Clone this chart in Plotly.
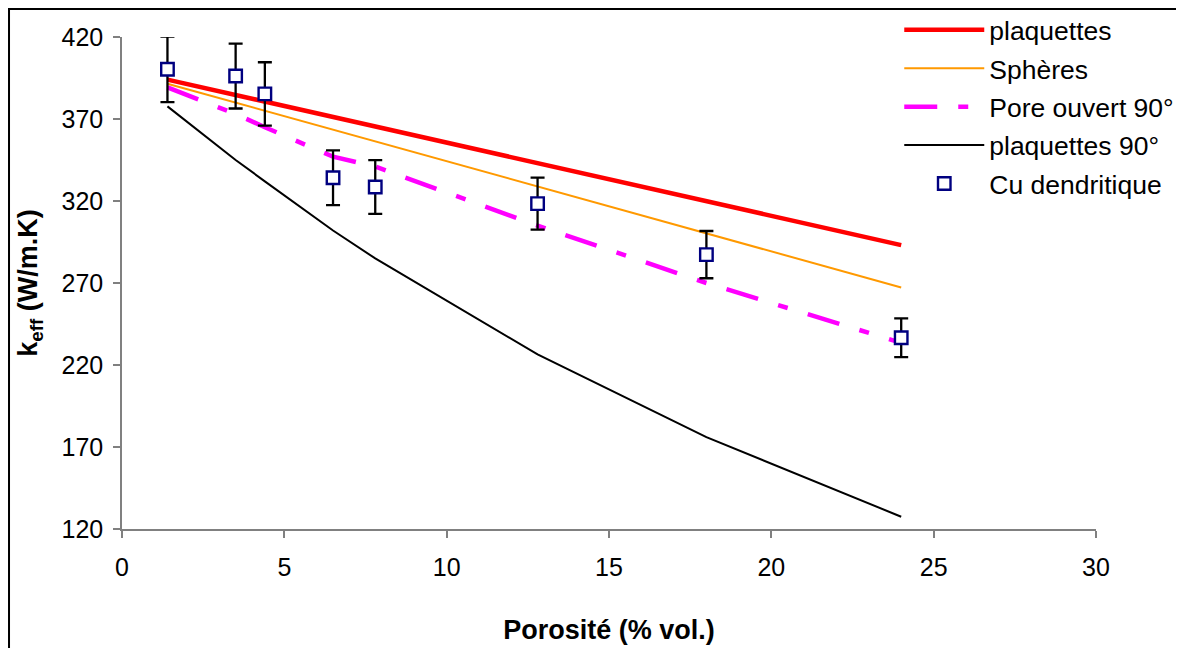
import plotly.graph_objects as go

# ---- data ----
porosity = [1.4, 3.5, 4.4, 6.5, 7.8, 12.8, 18.0, 24.0]

plaquettes = [394.0, 384.6, 380.6, 371.2, 365.4, 343.1, 319.9, 293.1]
spheres = [391.5, 380.0, 375.0, 363.5, 356.3, 329.0, 300.5, 267.3]
pore_ouvert_90 = [389.3, 373.0, 365.0, 347.0, 341.0, 305.0, 270.0, 233.5]
plaquettes_90 = [377.7, 345.0, 332.0, 302.0, 285.0, 226.5, 176.0, 127.5]

cu_x = [1.4, 3.5, 4.4, 6.5, 7.8, 12.8, 18.0, 24.0]
cu_y = [400.3, 396.2, 385.3, 334.2, 328.5, 318.4, 287.3, 236.6]
cu_err = [20.0, 19.8, 19.3, 16.7, 16.4, 15.9, 14.4, 11.8]

x_ticks = [0, 5, 10, 15, 20, 25, 30]
y_ticks = [120, 170, 220, 270, 320, 370, 420]

FONT = "Liberation Sans, Arial, sans-serif"

fig = go.Figure()

fig.add_trace(go.Scatter(
    x=porosity, y=plaquettes, mode="lines", name="plaquettes",
    line=dict(color="#ff0000", width=4.5), legendgroup="a"))
fig.add_trace(go.Scatter(
    x=porosity, y=spheres, mode="lines", name="Sphères",
    line=dict(color="#ff9900", width=2), legendgroup="b"))
fig.add_trace(go.Scatter(
    x=porosity, y=pore_ouvert_90, mode="lines", name="Pore ouvert 90°",
    line=dict(color="#ff00ff", width=4.5, dash="33px,21px,10px,21px"), legendgroup="c"))
fig.add_trace(go.Scatter(
    x=porosity, y=plaquettes_90, mode="lines", name="plaquettes 90°",
    line=dict(color="#000000", width=2), legendgroup="d"))
fig.add_trace(go.Scatter(
    x=cu_x, y=cu_y, mode="markers", name="Cu dendritique",
    marker=dict(symbol="square", size=12.5, color="white",
                line=dict(color="#000080", width=2.4)),
    error_y=dict(type="data", array=cu_err, visible=True,
                 color="black", thickness=2.3, width=7),
    legendgroup="e"))

axis_common = dict(
    showgrid=False, zeroline=False, showline=True,
    linecolor="#808080", linewidth=1.5,
    ticks="outside", ticklen=7, tickcolor="#808080", tickwidth=1.5,
    tickfont=dict(family=FONT, size=25, color="black"),
)

fig.update_xaxes(
    range=[0, 30], tickvals=x_ticks, ticktext=[str(v) for v in x_ticks],
    ticklabelstandoff=8,
    title=dict(text="<b>Porosité (% vol.)</b>",
               font=dict(family=FONT, size=27, color="black"), standoff=40),
    **axis_common)
fig.update_yaxes(
    range=[120, 420], tickvals=y_ticks, ticktext=[str(v) for v in y_ticks],
    ticklabelstandoff=5,
    title=dict(text="<b>k<sub>eff</sub> (W/m.K)</b>",
               font=dict(family=FONT, size=27, color="black"), standoff=16),
    **axis_common)

fig.update_layout(
    width=1184, height=648,
    margin=dict(l=114, r=96, t=29, b=127, autoexpand=False),
    paper_bgcolor="white", plot_bgcolor="white",
    font=dict(family=FONT, color="black"),
    legend=dict(
        x=0.798, y=1.063, xanchor="left", yanchor="top",
        font=dict(family=FONT, size=26.5, color="black"),
        bgcolor="rgba(0,0,0,0)", itemwidth=80,
        traceorder="grouped", tracegroupgap=1,
    ),
    shapes=[dict(type="rect", xref="paper", yref="paper",
                 x0=-0.116, x1=1.3, y0=-0.4, y1=1.0569,
                 line=dict(color="black", width=2), layer="below")],
)

fig.write_html("out.html")
